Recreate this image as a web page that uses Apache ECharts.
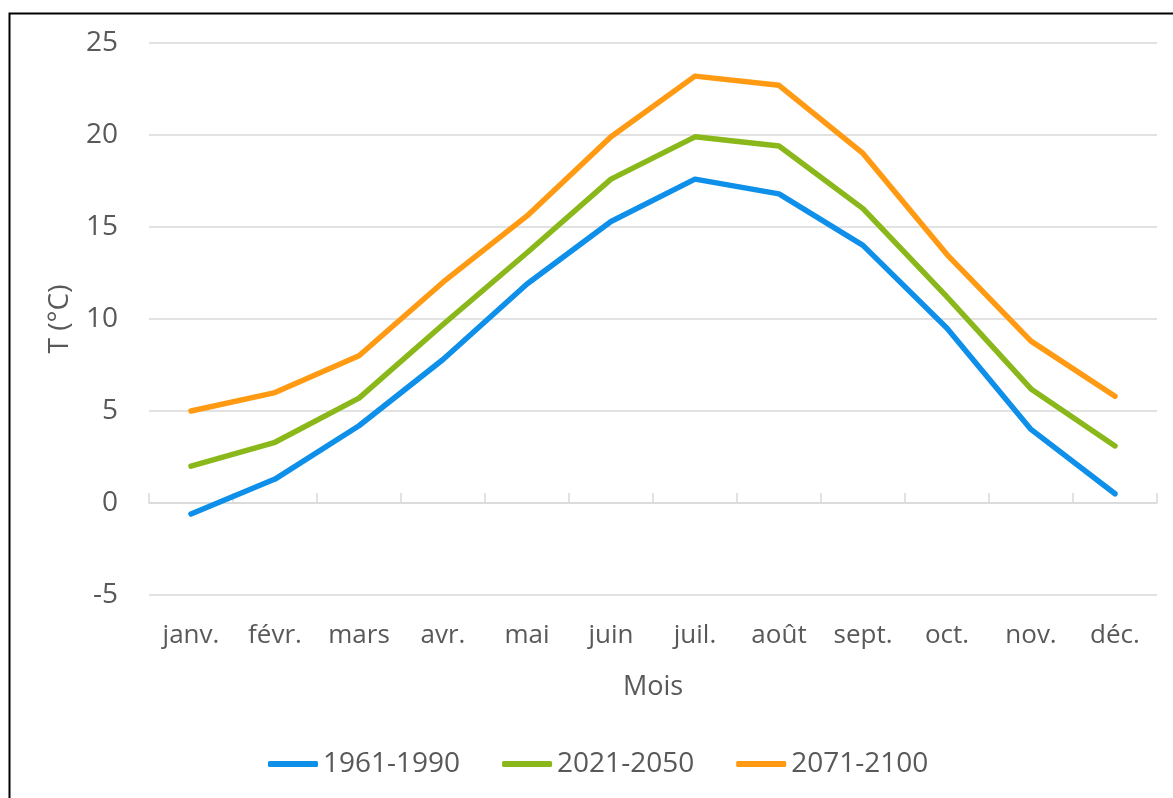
<!DOCTYPE html>
<html>
<head>
<meta charset="utf-8">
<script src="https://cdn.jsdelivr.net/npm/echarts@6/dist/echarts.min.js"></script>
<style>
html,body{margin:0;padding:0;background:#fff;overflow:hidden;}
#chart{width:1173px;height:798px;}
</style>
</head>
<body>
<div id="chart"></div>
<script>
const months = ['janv.', 'févr.', 'mars', 'avr.', 'mai', 'juin', 'juil.', 'août', 'sept.', 'oct.', 'nov.', 'déc.'];
const seriesNames = ['1961-1990', '2021-2050', '2071-2100'];
const t1961 = [-0.6, 1.3, 4.2, 7.8, 11.9, 15.3, 17.6, 16.8, 14.0, 9.5, 4.0, 0.5];
const t2021 = [2.0, 3.3, 5.7, 9.7, 13.6, 17.6, 19.9, 19.4, 16.0, 11.2, 6.2, 3.1];
const t2071 = [5.0, 6.0, 8.0, 12.0, 15.6, 19.9, 23.2, 22.7, 19.0, 13.5, 8.8, 5.8];
const yTicks = { min: -5, max: 25, interval: 5 };
const colors = ['#0e8fe9', '#8ab81a', '#ff9a12'];

const FONT = 'Open Sans';
const TXT = '#595959';
const chart = echarts.init(document.getElementById('chart'), null, { renderer: 'canvas' });

const mk = (name, data, color) => ({
  name, type: 'line', data, symbol: 'none', color,
  lineStyle: { width: 5.5, color, cap: 'round', join: 'round' },
  emphasis: { disabled: true }, animation: false
});

chart.setOption({
  backgroundColor: '#fff',
  animation: false,
  textStyle: { fontFamily: FONT, color: TXT },
  grid: { left: 149, right: 16, top: 43, bottom: 203, containLabel: false, outerBoundsMode: 'none' },
  legend: {
    data: seriesNames,
    icon: 'roundRect',
    left: 263, top: 745,
    itemWidth: 50, itemHeight: 6, itemGap: 42,
    textStyle: { fontFamily: FONT, fontSize: 28, color: TXT }
  },
  xAxis: {
    type: 'category', data: months, boundaryGap: true,
    axisLine: { onZero: true, lineStyle: { color: '#d9d9d9', width: 1.5 } },
    axisTick: { show: true, inside: true, length: 10, lineStyle: { color: '#d9d9d9', width: 1.5 } },
    axisLabel: { margin: 28, fontFamily: FONT, fontSize: 26, color: TXT },
    name: 'Mois', nameLocation: 'middle', nameGap: 79,
    nameTextStyle: { fontFamily: FONT, fontSize: 27, color: TXT }
  },
  yAxis: {
    type: 'value', min: yTicks.min, max: yTicks.max, interval: yTicks.interval,
    axisLine: { show: false }, axisTick: { show: false },
    splitLine: { lineStyle: { color: '#d9d9d9', width: 1.5 } },
    axisLabel: { margin: 31, fontFamily: FONT, fontSize: 28, color: TXT },
    name: 'T (°C)', nameLocation: 'middle', nameGap: 75, nameRotate: 90,
    nameTextStyle: { fontFamily: FONT, fontSize: 28, color: TXT }
  },
  graphic: [{
    type: 'rect', left: 7, top: 11, silent: true, z: 100,
    shape: { x: 0, y: 0, width: 1300, height: 900 },
    style: { fill: 'none', stroke: '#000', lineWidth: 2 }
  }],
  series: [
    mk(seriesNames[0], t1961, colors[0]),
    mk(seriesNames[1], t2021, colors[1]),
    mk(seriesNames[2], t2071, colors[2])
  ]
});
</script>
</body>
</html>
